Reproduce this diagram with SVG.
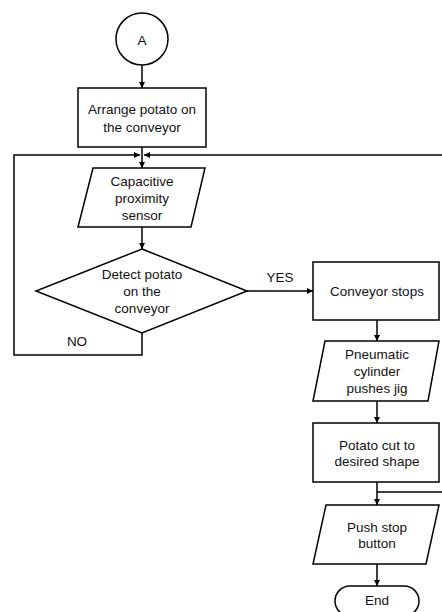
<svg xmlns="http://www.w3.org/2000/svg" width="442" height="612" viewBox="0 0 442 612">
<defs>
<marker id="ah" viewBox="0 0 8 8" refX="8" refY="4" markerWidth="6" markerHeight="6" markerUnits="userSpaceOnUse" orient="auto">
<path d="M0,0 L8,4 L0,8 Z" fill="#000"/>
</marker>
<style>
.s{fill:#fff;stroke:#000;stroke-width:1.5}
.c{fill:none;stroke:#000;stroke-width:1.5}
.a{marker-end:url(#ah)}
text{font-family:"Liberation Sans",Arial,sans-serif;font-size:13.5px;fill:#111;text-anchor:middle}
</style>
</defs>
<rect width="442" height="612" fill="#fff"/>
<g id="connectors">
<path class="c a" d="M142,65 V88"/>
<path class="c" d="M142,147 V155"/>
<path class="c a" d="M142,155 V168"/>
<path class="c a" d="M142,333 V355 H14 V155 H140"/>
<path class="c a" d="M442,155 H144"/>
<path class="c a" d="M142,227 V249"/>
<path class="c a" d="M247,291 H313"/>
<path class="c a" d="M377,320 V341"/>
<path class="c a" d="M377,401 V423"/>
<path class="c a" d="M377,482 V505"/>
<path class="c" d="M377,492 H442"/>
<path class="c a" d="M377,564 V586"/>
<text x="280" y="282">YES</text>
<text x="77" y="346">NO</text>
</g>
<g id="nA">
<circle class="s" cx="142" cy="39" r="26"/>
<text x="142" y="45">A</text>
</g>
<g id="nArrange">
<rect class="s" x="78" y="88" width="128" height="59"/>
<text x="142" y="114">Arrange potato on</text>
<text x="142" y="132">the conveyor</text>
</g>
<g id="nSensor">
<polygon class="s" points="93,168 205,168 191,227 78,227"/>
<text x="142" y="186">Capacitive</text>
<text x="142" y="203">proximity</text>
<text x="142" y="220">sensor</text>
</g>
<g id="nDetect">
<polygon class="s" points="142,249 247,291 142,333 36,291"/>
<text x="142" y="279">Detect potato</text>
<text x="142" y="296">on the</text>
<text x="142" y="313">conveyor</text>
</g>
<g id="nStops">
<rect class="s" x="313" y="262" width="126" height="58"/>
<text x="377" y="296">Conveyor stops</text>
</g>
<g id="nPneumatic">
<polygon class="s" points="325,341 439,341 428,401 313,401"/>
<text x="377" y="359">Pneumatic</text>
<text x="377" y="376">cylinder</text>
<text x="377" y="393">pushes jig</text>
</g>
<g id="nCut">
<rect class="s" x="313" y="423" width="126" height="59"/>
<text x="377" y="450">Potato cut to</text>
<text x="377" y="466">desired shape</text>
</g>
<g id="nPush">
<polygon class="s" points="326,505 439,505 426,564 313,564"/>
<text x="377" y="532">Push stop</text>
<text x="377" y="548">button</text>
</g>
<g id="nEnd">
<rect class="s" x="335" y="586" width="84" height="30" rx="15"/>
<text x="377" y="605">End</text>
</g>
</svg>
